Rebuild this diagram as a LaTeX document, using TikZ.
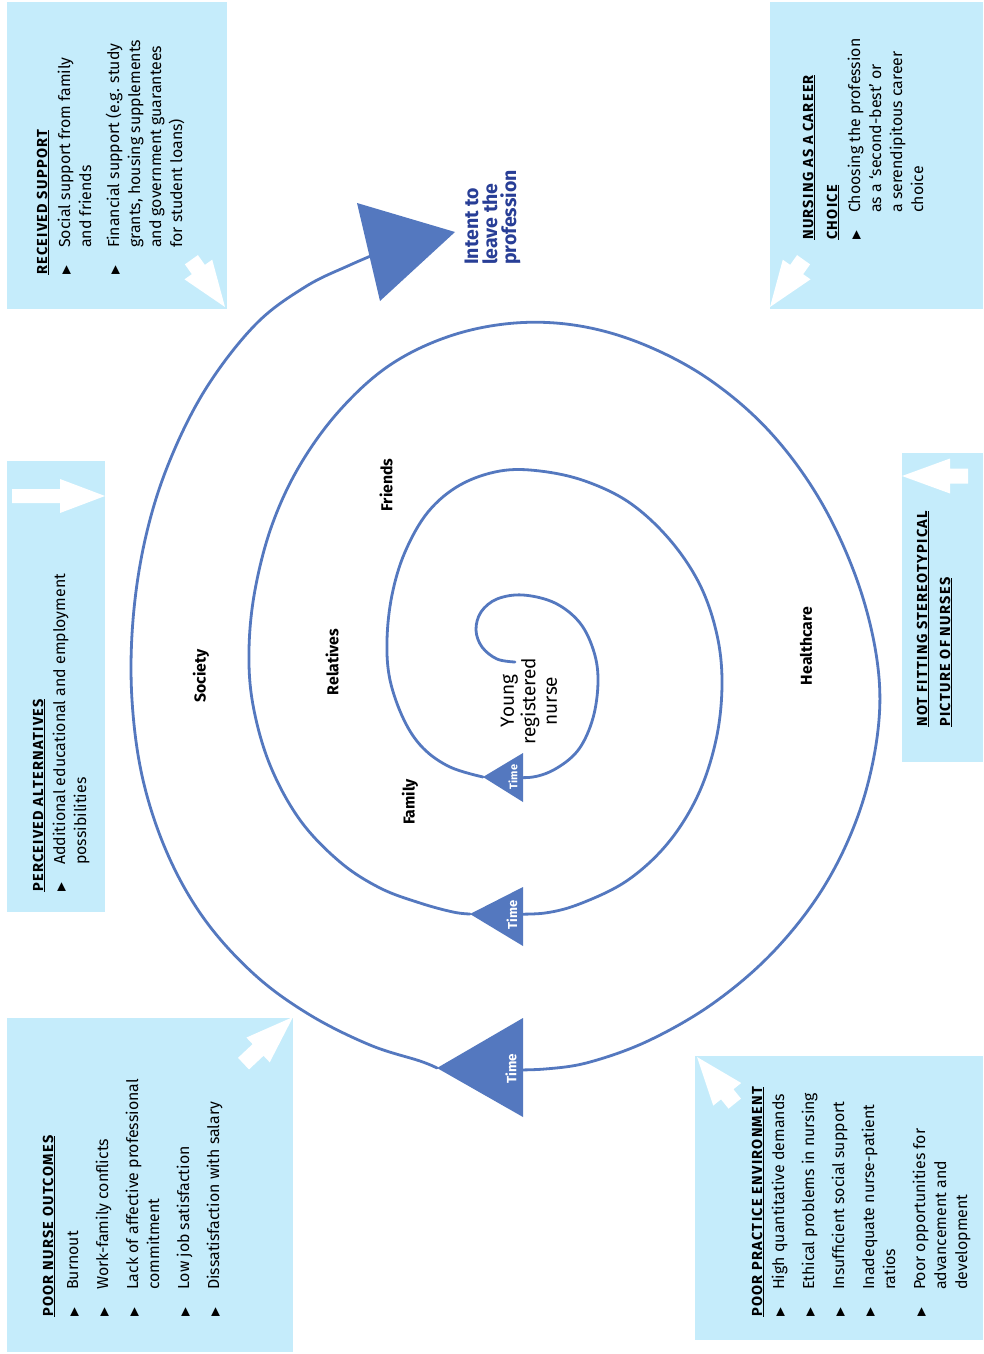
\documentclass[tikz,border=0pt]{standalone}
\usepackage{fontspec}
\setmainfont{Fira Sans}
\newfontfamily\headfont[LetterSpace=9]{Fira Sans}
\newfontfamily\symfont{DejaVu Sans}
\definecolor{boxblue}{RGB}{197,236,251}
\definecolor{spiralblue}{RGB}{84,120,191}
\definecolor{intentblue}{RGB}{40,62,150}
\newcommand{\hd}[1]{\multicolumn{2}{@{}l@{}}{\headfont\bfseries\fontsize{14.5}{16}\selectfont\underline{#1}}}
\newcommand{\bul}{\makebox[27pt][l]{\raisebox{0.3pt}{\symfont\fontsize{11.5}{11.5}\selectfont ▶}}}
\newcommand{\warrow}[6]{\fill[white,shift={(#1)},rotate=#2] (0,0) -- (-#3,#4) -- (-#3,#6) -- ({-#3-#5},#6) -- ({-#3-#5},-#6) -- (-#3,-#6) -- (-#3,-#4) -- cycle;}
\tikzset{
  infobox/.style={fill=boxblue},
  boxtext/.style={rotate=90,anchor=base west,inner sep=0pt,font=\fontsize{15.9}{21}\selectfont},
  spiral/.style={draw=spiralblue,line width=2.8pt,line cap=round,line join=round},
  spirallabel/.style={rotate=90,inner sep=0pt,font=\bfseries\fontsize{15.8}{17}\selectfont},
  timelabel/.style={rotate=90,inner sep=0pt,text=white,font=\bfseries\fontsize{#1}{#1}\selectfont}
}
\begin{document}
\begin{tikzpicture}[x=1pt,y=-1pt]
\useasboundingbox (0,0) rectangle (983,1354);
\fill[white] (0,0) rectangle (983,1354);
% boxes
\fill[infobox] (7,2) rectangle (227,309);
\fill[infobox] (770,2) rectangle (983,309);
\fill[infobox] (7,461) rectangle (105,912);
\fill[infobox] (902,453) rectangle (983,762);
\fill[infobox] (7,1018) rectangle (293,1352);
\fill[infobox] (695,1056) rectangle (983,1340);
% white arrows
\coordinate (a1) at (225,307);
\coordinate (a2) at (770,307);
\coordinate (a3) at (105,496);
\coordinate (a4) at (902,476);
\coordinate (a5) at (293,1017);
\coordinate (a6) at (697,1057);
\warrow{a1}{-54.6}{46}{17}{12}{8}
\warrow{a2}{-125.4}{46}{17}{12}{8}
\warrow{a3}{0}{45}{17}{48}{7}
\warrow{a4}{180}{48}{17.5}{18}{7.5}
\warrow{a5}{43.3}{48}{17}{20}{8}
\warrow{a6}{129}{48}{18}{12}{8}
% box texts
\node[boxtext] (rs) at (47,275) {\begin{tabular}[t]{@{}l@{}l@{}}
\hd{RECEIVED SUPPORT}\\[2pt]
\bul & Social support from family\\
& and friends\\[7pt]
\bul & Financial support (e.g. study\\
& grants, housing supplements\\
& and government guarantees\\
& for student loans)
\end{tabular}};
\node[boxtext] (nc) at (813,240) {\begin{tabular}[t]{@{}l@{}l@{}}
\hd{NURSING AS A CAREER}\\[3pt]
\hd{CHOICE}\\[2pt]
\bul & Choosing the profession\\
& as a ‘second-best’ or\\
& a serendipitous career\\
& choice
\end{tabular}};
\node[boxtext] (pa) at (43,892) {\begin{tabular}[t]{@{}l@{}l@{}}
\hd{PERCEIVED ALTERNATIVES}\\[1pt]
\bul & Additional educational and employment\\
& possibilities
\end{tabular}};
\node[boxtext] (ns) at (927,727) {\begin{tabular}[t]{@{}l@{}l@{}}
\hd{NOT FITTING STEREOTYPICAL}\\[2pt]
\hd{PICTURE OF NURSES}
\end{tabular}};
\node[boxtext] (po) at (53,1317) {\begin{tabular}[t]{@{}l@{}l@{}}
\hd{POOR NURSE OUTCOMES}\\[4pt]
\bul & Burnout\\[9pt]
\bul & Work-family conflicts\\[9pt]
\bul & Lack of affective professional\\
& commitment\\[9pt]
\bul & Low job satisfaction\\[9pt]
\bul & Dissatisfaction with salary
\end{tabular}};
\node[boxtext] (pe) at (762,1317) {\begin{tabular}[t]{@{}l@{}l@{}}
\hd{POOR PRACTICE ENVIRONMENT}\\[1pt]
\bul & High quantitative demands\\[9pt]
\bul & Ethical problems in nursing\\[9pt]
\bul & Insufficient social support\\[9pt]
\bul & Inadequate nurse-patient\\
& ratios\\[9pt]
\bul & Poor opportunities for\\
& advancement and\\
& development
\end{tabular}};
% spiral anchor coordinates
\coordinate (s0) at (515,662);
\coordinate (b1) at (505,777); \coordinate (t1) at (483,777);
\coordinate (b2) at (505,914); \coordinate (t2) at (470,914);
\coordinate (b3) at (500,1070); \coordinate (t3) at (437,1068);
\coordinate (hend) at (390,248);
\coordinate (h1) at (357,203); \coordinate (h2) at (455,232); \coordinate (h3) at (380,301);
% spiral
\draw[spiral] plot[smooth,tension=0.6] coordinates {(s0) (497,659) (482,647) (476,630) (481,612) (497,599) (523,595) (555,603) (580,623) (594,652) (598,682) (593,718) (579,749) (557,768) (533,777) (b1)};
\draw[spiral] plot[smooth,tension=0.6] coordinates {(t1) (450,767) (423,748) (404,720) (390,680) (387,640) (392,595) (405,552) (428,512) (460,485) (500,471) (540,471) (585,481) (630,503) (670,540) (700,585) (717,635) (722,685) (716,740) (698,795) (668,843) (628,880) (582,903) (545,913) (b2)};
\draw[spiral] plot[smooth,tension=0.6] coordinates {(t2) (453,912) (420,903) (380,888) (340,862) (300,820) (270,765) (253,705) (249,650) (255,590) (272,525) (300,465) (340,410) (390,365) (450,336) (515,323) (580,326) (645,345) (710,380) (770,432) (820,500) (857,580) (877,660) (878,730) (860,810) (825,885) (775,950) (715,1002) (650,1040) (590,1062) (545,1069) (b3)};
\draw[spiral] plot[smooth,tension=0.6] coordinates {(t3) (420,1061) (370,1045) (310,1015) (255,975) (205,920) (168,855) (143,780) (132,700) (133,620) (145,540) (168,465) (205,390) (255,325) (305,287) (350,265) (hend)};
% arrowheads
\fill[spiralblue] (523,753) -- (t1) -- (523,802) -- cycle;
\fill[spiralblue] (523,887) -- (t2) -- (523,946) -- cycle;
\fill[spiralblue] (523,1018) -- (t3) -- (523,1117) -- cycle;
\fill[spiralblue] (h1) -- (h2) -- (h3) -- cycle;
\node[timelabel=11] (tm1) at (513,777) {Time};
\node[timelabel=13] (tm2) at (512,915) {Time};
\node[timelabel=13.5] (tm3) at (511,1069) {Time};
% labels
\node[spirallabel] (fr) at (386,485) {Friends};
\node[spirallabel] (re) at (332,662) {Relatives};
\node[spirallabel] (so) at (201,676) {Society};
\node[spirallabel] (fa) at (410,802) {Family};
\node[spirallabel] (he) at (806,646) {Healthcare};
\node[rotate=90,inner sep=0pt,align=center,font=\fontsize{19}{21.5}\selectfont] (yn) at (529,701) {Young\\registered\\nurse};
\node[rotate=90,anchor=base west,inner sep=0pt,align=left,text=intentblue,font=\bfseries\fontsize{19.5}{19}\selectfont] (it) at (516,265) {Intent to\\leave the\\profession};
\end{tikzpicture}
\end{document}
